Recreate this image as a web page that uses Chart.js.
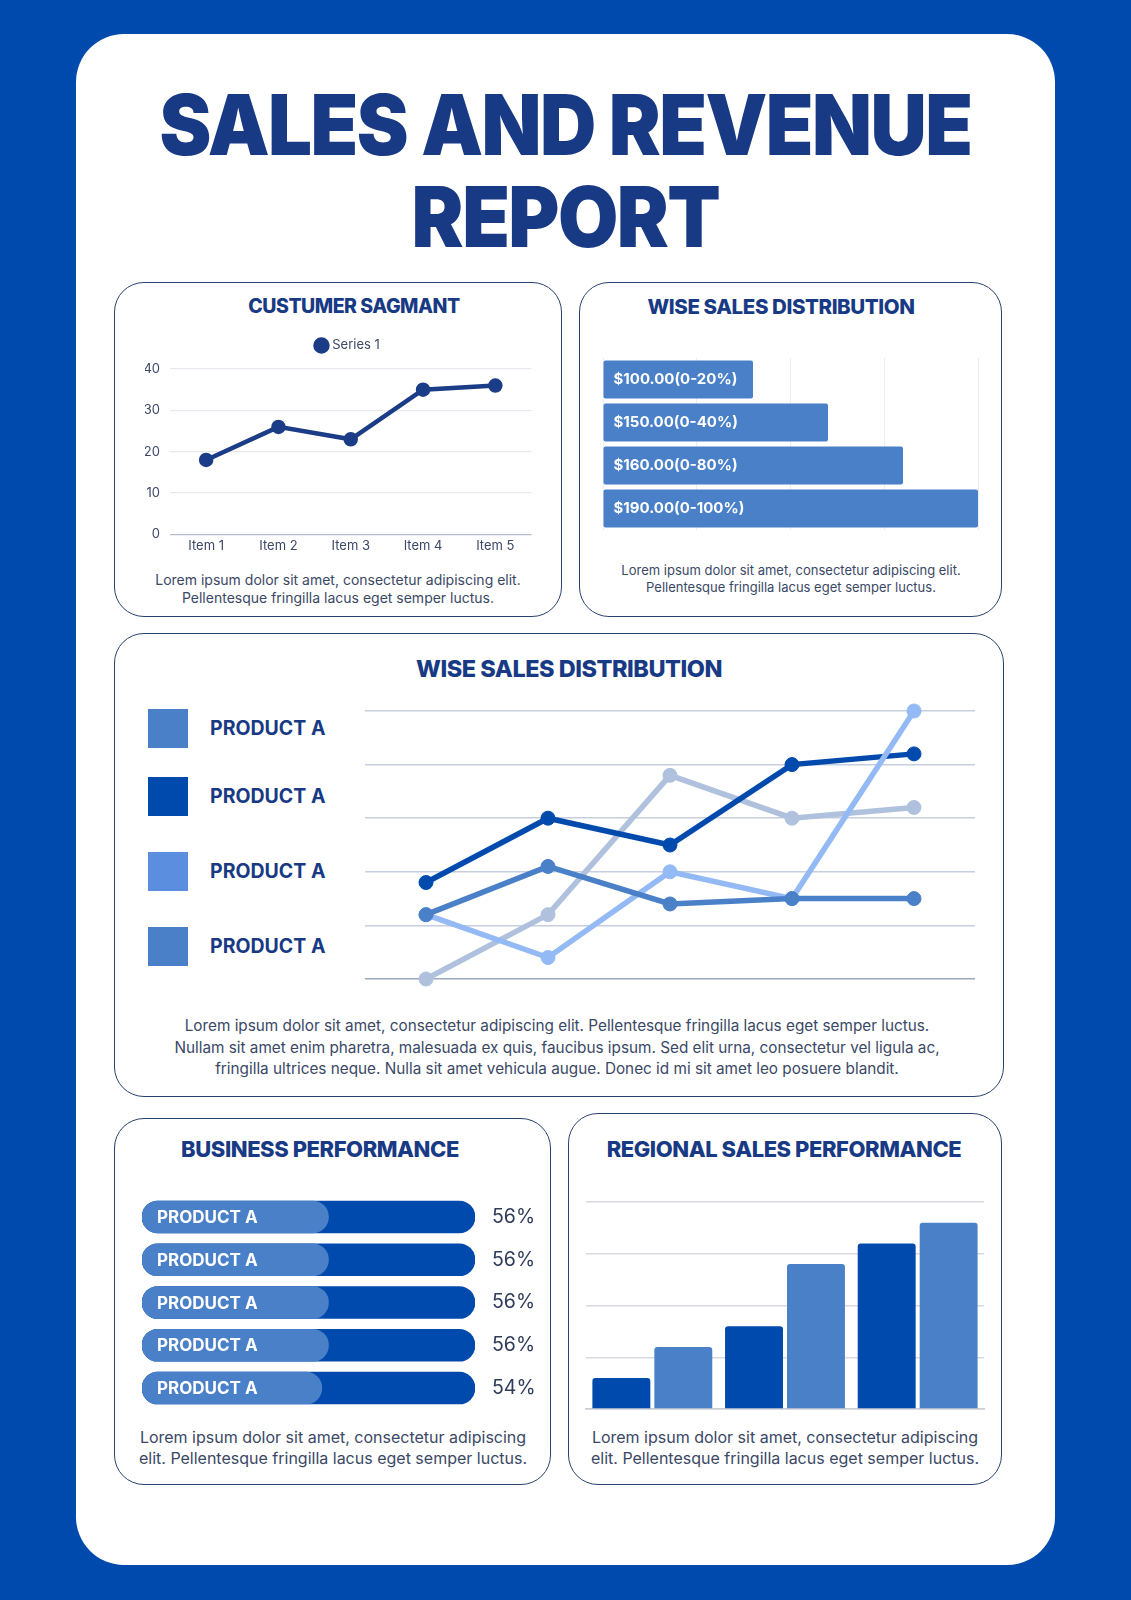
<!DOCTYPE html>
<html>
<head>
<meta charset="utf-8">
<title>Sales and Revenue Report</title>
<script src="https://cdn.jsdelivr.net/npm/chart.js@4.4.1/dist/chart.umd.min.js"></script>
<style>
  * { margin: 0; padding: 0; box-sizing: border-box; }
  body {
    width: 1131px; height: 1600px; position: relative; overflow: hidden;
    background: #004aad; font-family: Inter, "Noto Sans", sans-serif;
  }
  .card { position: absolute; left: 76px; top: 34px; width: 979px; height: 1531px; background: #fff; border-radius: 48px; }
  h1 {
    position: absolute; left: 0; width: 1131px; top: 79px; text-align: center;
    font-size: 84px; line-height: 92px; font-weight: 900; color: #183a85; letter-spacing: -0.02em;
    transform: scaleX(0.928); transform-origin: 565px 0;
  }
  .panel { position: absolute; border: 1.5px solid #27426f; border-radius: 30px; }
  .t { position: absolute; white-space: nowrap; text-align: center; }
  .ptitle { font-weight: 800; color: #183a85; letter-spacing: -0.02em; }
  .cap { color: #3a4866; font-weight: 400; }
  .box { position: absolute; }
  .sq { position: absolute; left: 148px; width: 40px; height: 39px; }
  .lg { position: absolute; left: 210px; font-size: 19.5px; line-height: 30px; font-weight: 700; color: #183a85; }
</style>
</head>
<body>
<div class="card"></div>
<h1>SALES AND REVENUE<br>REPORT</h1>

<div class="panel" style="left:114px;top:282px;width:448px;height:335px"></div>
<div class="panel" style="left:579px;top:282px;width:423px;height:335px"></div>
<div class="panel" style="left:114px;top:633px;width:890px;height:464px"></div>
<div class="panel" style="left:114px;top:1118px;width:437px;height:367px"></div>
<div class="panel" style="left:568px;top:1113px;width:434px;height:372px"></div>

<!-- panel titles -->
<div class="t ptitle" style="left:104px;width:500px;top:290.5px;font-size:19.5px;line-height:30px;letter-spacing:-0.025em">CUSTUMER SAGMANT</div>
<div class="t ptitle" style="left:531px;width:500px;top:292px;font-size:20.5px;line-height:30px">WISE SALES DISTRIBUTION</div>
<div class="t ptitle" style="left:319px;width:500px;top:653px;font-size:23.5px;line-height:32px">WISE SALES DISTRIBUTION</div>
<div class="t ptitle" style="left:70px;width:500px;top:1134px;font-size:22px;line-height:30px">BUSINESS PERFORMANCE</div>
<div class="t ptitle" style="left:534px;width:500px;top:1134px;font-size:22px;line-height:30px">REGIONAL SALES PERFORMANCE</div>

<!-- captions -->
<div class="t cap" style="left:88px;width:500px;top:571px;font-size:14px;line-height:18px">Lorem ipsum dolor sit amet, consectetur adipiscing elit.<br>Pellentesque fringilla lacus eget semper luctus.</div>
<div class="t cap" style="left:541px;width:500px;top:561.5px;font-size:13px;line-height:17px">Lorem ipsum dolor sit amet, consectetur adipiscing elit.<br>Pellentesque fringilla lacus eget semper luctus.</div>
<div class="t cap" style="left:107px;width:900px;top:1015px;font-size:15.3px;line-height:21.5px">Lorem ipsum dolor sit amet, consectetur adipiscing elit. Pellentesque fringilla lacus eget semper luctus.<br>Nullam sit amet enim pharetra, malesuada ex quis, faucibus ipsum. Sed elit urna, consectetur vel ligula ac,<br>fringilla ultrices neque. Nulla sit amet vehicula augue. Donec id mi sit amet leo posuere blandit.</div>
<div class="t cap" style="left:83px;width:500px;top:1426.5px;font-size:16px;line-height:21px">Lorem ipsum dolor sit amet, consectetur adipiscing<br>elit. Pellentesque fringilla lacus eget semper luctus.</div>
<div class="t cap" style="left:535px;width:500px;top:1426.5px;font-size:16px;line-height:21px">Lorem ipsum dolor sit amet, consectetur adipiscing<br>elit. Pellentesque fringilla lacus eget semper luctus.</div>

<!-- legend of the middle chart -->
<div class="sq" style="top:709px;background:#4a80c8"></div>
<div class="sq" style="top:777px;background:#004aad"></div>
<div class="sq" style="top:852px;background:#5c8ee0"></div>
<div class="sq" style="top:927px;background:#4a80c8"></div>
<div class="lg" style="top:713px">PRODUCT A</div>
<div class="lg" style="top:781px">PRODUCT A</div>
<div class="lg" style="top:856px">PRODUCT A</div>
<div class="lg" style="top:931px">PRODUCT A</div>

<div class="box" style="left:140px;top:323px;width:401px;height:235px"><canvas id="segmentChart"></canvas></div>
<div class="box" style="left:595px;top:350px;width:395px;height:190px"><canvas id="tierChart"></canvas></div>
<div class="box" style="left:355px;top:701px;width:630px;height:288px"><canvas id="productChart"></canvas></div>
<div class="box" style="left:135px;top:1190px;width:415px;height:225px"><canvas id="businessChart"></canvas></div>
<div class="box" style="left:578px;top:1195px;width:414px;height:220px"><canvas id="regionChart"></canvas></div>

<script>
// Customer segment
const items = ['Item 1', 'Item 2', 'Item 3', 'Item 4', 'Item 5'];
const series1 = [18, 26, 23, 35, 36];

// Sales distribution tiers
const tierLabels = ['$100.00(0-20%)', '$150.00(0-40%)', '$160.00(0-80%)', '$190.00(0-100%)'];
const tierShares = [40, 60, 80, 100];

// Product lines (middle chart)
const periods = ['P1', 'P2', 'P3', 'P4', 'P5'];
const productA1 = [1.2, 2.1, 1.4, 1.5, 1.5];
const productA2 = [1.8, 3.0, 2.5, 4.0, 4.2];
const productA3 = [1.2, 0.4, 2.0, 1.5, 5.0];
const productA4 = [0, 1.2, 3.8, 3.0, 3.2];

// Business performance
const products = ['PRODUCT A', 'PRODUCT A', 'PRODUCT A', 'PRODUCT A', 'PRODUCT A'];
const performance = [56, 56, 56, 56, 54];
const fullTrack = [100, 100, 100, 100, 100];

// Regional sales
const regions = ['Region 1', 'Region 2', 'Region 3'];
const regionSalesA = [0.6, 1.6, 3.2];
const regionSalesB = [1.2, 2.8, 3.6];

Chart.defaults.font.family = 'Inter, "Noto Sans", sans-serif';
Chart.defaults.animation = false;
Chart.defaults.plugins.tooltip.enabled = false;

const navy = '#1b3c87';
const textColor = '#3b4868';

// more room under the legend, and nudge it a little to the right
const legendNudge = {
    id: 'legendNudge',
    beforeInit(chart) {
        const legend = chart.legend;
        if (!legend) return;
        const fit = legend.fit;
        legend.fit = function () {
            fit.call(this);
            this.height += 7;
        };
        const draw = legend.draw;
        legend.draw = function () {
            this.ctx.save();
            this.ctx.translate(7, 0);
            draw.call(this);
            this.ctx.restore();
        };
    }
};

new Chart(document.getElementById('segmentChart'), {
    type: 'line',
    data: {
        labels: items,
        datasets: [{
            label: 'Series 1',
            data: series1,
            borderColor: navy,
            backgroundColor: navy,
            borderWidth: 4.5,
            pointRadius: 5,
            pointBackgroundColor: navy
        }]
    },
    options: {
        responsive: true,
        maintainAspectRatio: false,
        layout: { padding: { left: 5, right: 3 } },
        scales: {
            x: {
                offset: true,
                grid: { display: false, drawTicks: false },
                border: { display: false },
                ticks: { color: textColor, font: { size: 13 }, padding: 4 }
            },
            y: {
                min: 0,
                max: 40,
                afterFit: scale => { scale.width = 25; },
                ticks: { stepSize: 10, color: textColor, font: { size: 13 }, padding: 10 },
                grid: {
                    drawTicks: false,
                    lineWidth: 1.2,
                    color: ctx => ctx.tick && ctx.tick.value === 0 ? '#b5bccb' : '#e7e9ef'
                },
                border: { display: false }
            }
        },
        plugins: {
            legend: {
                labels: {
                    usePointStyle: true,
                    pointStyle: 'circle',
                    boxWidth: 8.5,
                    boxHeight: 8.5,
                    padding: 16,
                    color: textColor,
                    font: { size: 13 }
                }
            }
        }
    },
    plugins: [legendNudge]
});

// labels written inside the tier bars
const tierText = {
    id: 'tierText',
    afterDatasetsDraw(chart) {
        const ctx = chart.ctx;
        ctx.save();
        ctx.font = '700 15px Inter, "Noto Sans", sans-serif';
        ctx.fillStyle = '#ffffff';
        ctx.textBaseline = 'middle';
        chart.getDatasetMeta(0).data.forEach((bar, i) => {
            ctx.fillText(tierLabels[i], bar.base + 10, bar.y);
        });
        ctx.restore();
    }
};

new Chart(document.getElementById('tierChart'), {
    type: 'bar',
    data: {
        labels: tierLabels,
        datasets: [{
            data: tierShares,
            backgroundColor: '#4a80c8',
            borderRadius: 2,
            borderSkipped: false,
            categoryPercentage: 1,
            barPercentage: 0.88
        }]
    },
    options: {
        indexAxis: 'y',
        responsive: true,
        maintainAspectRatio: false,
        layout: { padding: { left: 8, right: 12, top: 8, bottom: 10 } },
        scales: {
            x: {
                min: 0,
                max: 100,
                ticks: { display: false, stepSize: 25 },
                grid: { drawTicks: false, color: '#ebedf1' },
                border: { display: false }
            },
            y: { display: false }
        },
        plugins: { legend: { display: false } }
    },
    plugins: [tierText]
});

new Chart(document.getElementById('productChart'), {
    type: 'line',
    data: {
        labels: periods,
        datasets: [
            { label: 'Product A', data: productA1, borderColor: '#4a80c8', backgroundColor: '#4a80c8' },
            { label: 'Product A', data: productA3, borderColor: '#94baf5', backgroundColor: '#94baf5' },
            { label: 'Product A', data: productA2, borderColor: '#004aad', backgroundColor: '#004aad' },
            { label: 'Product A', data: productA4, borderColor: '#b0c1de', backgroundColor: '#b0c1de' }
        ]
    },
    options: {
        responsive: true,
        maintainAspectRatio: false,
        layout: { padding: 10 },
        elements: {
            line: { borderWidth: 5.5 },
            point: { radius: 7 }
        },
        datasets: { line: { clip: false } },
        scales: {
            x: {
                offset: true,
                ticks: { display: false },
                grid: { display: false, drawTicks: false },
                border: { display: false }
            },
            y: {
                min: 0,
                max: 5,
                ticks: { display: false, stepSize: 1 },
                grid: {
                    drawTicks: false,
                    lineWidth: 1.5,
                    color: ctx => ctx.tick && ctx.tick.value === 0 ? '#9ca7bf' : '#c6cee0'
                },
                border: { display: false }
            }
        },
        plugins: { legend: { display: false } }
    }
});

// product names on the bars and percentages to the right
const businessText = {
    id: 'businessText',
    afterDatasetsDraw(chart) {
        const ctx = chart.ctx;
        const area = chart.chartArea;
        ctx.save();
        ctx.textBaseline = 'middle';
        chart.getDatasetMeta(0).data.forEach((bar, i) => {
            ctx.font = '700 17px Inter, "Noto Sans", sans-serif';
            ctx.fillStyle = '#ffffff';
            ctx.fillText(products[i], area.left + 15, bar.y + 1);
            ctx.font = '400 19.5px Inter, "Noto Sans", sans-serif';
            ctx.fillStyle = '#2f3c5a';
            ctx.fillText(performance[i] + '%', area.right + 17, bar.y);
        });
        ctx.restore();
    }
};

new Chart(document.getElementById('businessChart'), {
    type: 'bar',
    data: {
        labels: products,
        datasets: [
            { data: performance, backgroundColor: '#4a80c8' },
            { data: fullTrack, backgroundColor: '#004aad' }
        ]
    },
    options: {
        indexAxis: 'y',
        responsive: true,
        maintainAspectRatio: false,
        layout: { padding: { left: 7, right: 75, top: 5.6, bottom: 5.6 } },
        datasets: {
            bar: { grouped: false, barThickness: 32, borderRadius: 16, borderSkipped: false }
        },
        scales: {
            x: { display: false, min: 0, max: 100 },
            y: { display: false }
        },
        plugins: { legend: { display: false } }
    },
    plugins: [businessText]
});

new Chart(document.getElementById('regionChart'), {
    type: 'bar',
    data: {
        labels: regions,
        datasets: [
            { data: regionSalesA, backgroundColor: '#004aad' },
            { data: regionSalesB, backgroundColor: '#4a80c8' }
        ]
    },
    options: {
        responsive: true,
        maintainAspectRatio: false,
        layout: { padding: { left: 8, right: 8, top: 7, bottom: 6 } },
        datasets: {
            bar: { categoryPercentage: 0.934, barPercentage: 0.935, borderRadius: 3 }
        },
        scales: {
            x: {
                ticks: { display: false },
                grid: { display: false, drawTicks: false },
                border: { color: '#c9ccd3', width: 1.5 }
            },
            y: {
                min: 0,
                max: 4,
                ticks: { display: false, stepSize: 1 },
                grid: { drawTicks: false, color: '#d6d9df', lineWidth: 1.5 },
                border: { display: false }
            }
        },
        plugins: { legend: { display: false } }
    }
});
</script>
</body>
</html>
